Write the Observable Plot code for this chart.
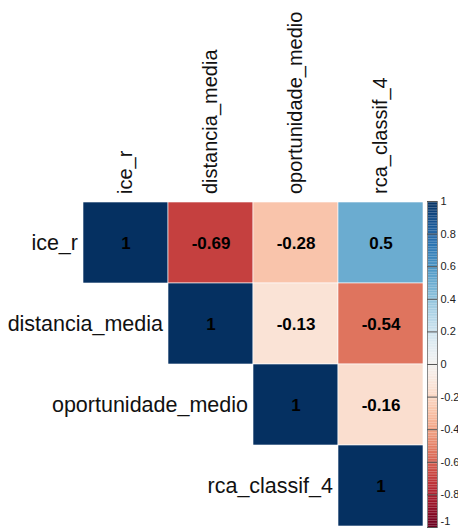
<!DOCTYPE html>
<html>
<head>
<meta charset="utf-8">
<script src="https://cdn.jsdelivr.net/npm/d3@7"></script>
<script src="https://cdn.jsdelivr.net/npm/@observablehq/plot@0.6"></script>
<style>
  html, body { margin: 0; padding: 0; background: #fff; }
  #wrap { position: relative; width: 458px; height: 529px; font-family: "Liberation Sans", Arial, sans-serif; }
  #wrap svg { position: absolute; left: 0; top: 0; }
</style>
</head>
<body>
<div id="wrap"></div>
<script>
const variables = ["ice_r", "distancia_media", "oportunidade_medio", "rca_classif_4"];
const rowVars = ["ice_r", "ice_r", "ice_r", "ice_r", "distancia_media", "distancia_media", "distancia_media", "oportunidade_medio", "oportunidade_medio", "rca_classif_4"];
const colVars = ["ice_r", "distancia_media", "oportunidade_medio", "rca_classif_4", "distancia_media", "oportunidade_medio", "rca_classif_4", "oportunidade_medio", "rca_classif_4", "rca_classif_4"];
const corrValues = [1, -0.69, -0.28, 0.5, 1, -0.13, -0.54, 1, -0.16, 1];
const legendTicks = [1, 0.8, 0.6, 0.4, 0.2, 0, -0.2, -0.4, -0.6, -0.8, -1];
const legendTickLabels = ["1", "0.8", "0.6", "0.4", "0.2", "0", "-0.2", "-0.4", "-0.6", "-0.8", "-1"];

const cells = corrValues.map((v, i) => ({row: rowVars[i], col: colVars[i], value: v}));
const fmt = v => (v === 1 ? "1" : String(v));
const colorOpts = {type: "linear", domain: [-1, 1], interpolate: d3.interpolateRdBu};

const W = 458, H = 529;
const main = Plot.plot({
  width: W, height: H,
  marginLeft: 83, marginRight: 35, marginTop: 201, marginBottom: 2,
  style: {fontFamily: "'Liberation Sans', Arial, sans-serif", background: "transparent"},
  x: {type: "band", domain: variables, padding: 0, axis: null},
  y: {type: "band", domain: variables, padding: 0, axis: null},
  color: colorOpts,
  marks: [
    Plot.cell(cells, {x: "col", y: "row", fill: "value", stroke: "white", strokeWidth: 0.6, inset: 0}),
    Plot.text(cells, {x: "col", y: "row", text: d => fmt(d.value), fill: "black", fontWeight: "bold", fontSize: 17, dy: 1}),
    Plot.text(variables, {x: d => d, y: d => d, text: d => d, textAnchor: "end", dx: -48, fontSize: 21.5, fill: "#111"}),
    Plot.text(variables, {x: d => d, y: () => variables[0], text: d => d, rotate: -90, textAnchor: "start", dy: -49, fontSize: 20, fill: "#111"})
  ]
});

const rampSteps = d3.range(-1, 1, 0.01);
const tickIdx = legendTicks.map((d, i) => i);
const lastIdx = tickIdx.length - 1;
const legend = Plot.plot({
  width: W, height: H,
  marginLeft: 427, marginRight: 21, marginTop: 201, marginBottom: 2,
  style: {fontFamily: "'Liberation Sans', Arial, sans-serif", background: "transparent", overflow: "visible"},
  x: {domain: [0, 1], axis: null},
  y: {domain: [-1, 1], axis: null},
  color: colorOpts,
  marks: [
    Plot.rect(rampSteps, {x1: 0, x2: 1, y1: d => d, y2: d => d + 0.0101, fill: d => d + 0.005}),
    Plot.frame({stroke: "#888", strokeWidth: 1}),
    Plot.tickY(legendTicks, {y: d => d, x1: 1, x2: 1.3, stroke: "#555"}),
    Plot.text(tickIdx.filter(i => i !== lastIdx), {x: 1, y: i => legendTicks[i], text: i => legendTickLabels[i], textAnchor: "start", dx: 3, fontSize: 11, fill: "#222"}),
    Plot.text([lastIdx], {x: 1, y: i => legendTicks[i], text: i => legendTickLabels[i], textAnchor: "start", dx: 3, dy: -6, fontSize: 11, fill: "#222"})
  ]
});

const wrap = document.getElementById("wrap");
wrap.appendChild(main);
wrap.appendChild(legend);
</script>
</body>
</html>
